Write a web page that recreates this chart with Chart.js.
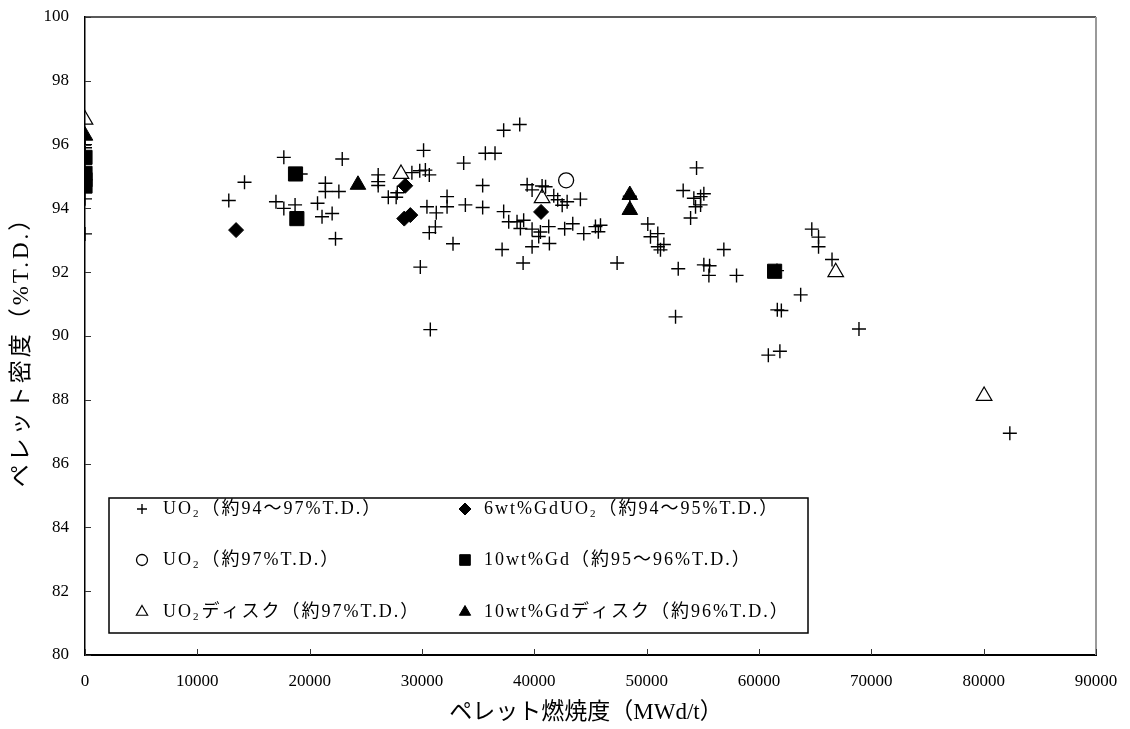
<!DOCTYPE html>
<html lang="ja">
<head>
<meta charset="utf-8">
<title>ペレット密度とペレット燃焼度</title>
<script src="https://cdn.jsdelivr.net/npm/chart.js@4.4.1/dist/chart.umd.min.js"></script>
<style>
  html, body { margin: 0; padding: 0; background: #fff; }
  #wrap { width: 1130px; height: 729px; }
</style>
</head>
<body>
<div id="wrap"><canvas id="chart" width="1130" height="729"></canvas></div>
<script>
// 軸の設定
const xMin = 0, xMax = 90000, xStep = 10000;
const yMin = 80, yMax = 100, yStep = 2;
const xTitle = 'ペレット燃焼度（MWd/t）';
const yTitle = 'ペレット密度（%T.D.）';

// UO2（約94～97%T.D.）
const uo2Burnup = [
    0, 0, 0, 0, 0,
    12800, 14200, 17000, 17700, 17700, 18700, 19200, 20700, 21100, 21400, 21400, 22000, 22300, 22600, 22900,
    26100, 26100, 26100, 27000, 27700, 27800, 29100, 29800, 30300, 30650, 30140, 30440, 31270, 31190, 30650, 29850, 30740,
    32230, 32230, 32760, 33710, 33860, 35400, 35400, 35640, 36500, 37270, 38700, 37130, 39000,
    39360, 39800, 40690, 41000, 41730, 42080, 42480, 42920, 44100,
    37270, 37720, 38460, 39050, 38760, 39800, 40540, 40390, 41280, 39800, 41340, 42700, 43420, 44400, 45440, 45890, 45700,
    48500, 47370, 50100, 50340, 50990, 50990, 51530, 51230, 52570, 52810,
    54440, 53250, 54200, 54800, 55090, 54350, 54800, 53910, 55090, 55600, 55540, 56870, 58000,
    61600, 64700, 65300, 65300, 66500, 63710, 61630, 61990, 68900, 60830, 61860, 82330
];
const uo2Density = [
    96.0, 95.9, 95.5, 94.3, 93.2,
    94.25, 94.82, 94.21, 95.6, 94.0, 94.11, 95.08, 94.16, 93.74, 94.79, 94.53, 93.84, 93.05, 94.53, 95.55,
    95.05, 94.84, 94.72, 94.35, 94.35, 94.49, 95.12, 95.18, 95.2, 95.05, 95.82, 94.05, 93.86, 93.42, 93.24, 92.16, 90.2,
    94.37, 94.05, 92.89, 95.42, 94.11, 94.72, 94.03, 95.73, 95.73, 96.45, 96.63, 92.71, 92.29,
    94.74, 94.58, 94.7, 94.68, 94.4, 94.27, 94.1, 94.21, 94.29,
    93.9, 93.58, 93.58, 93.63, 93.37, 93.35, 93.26, 93.12, 93.43, 92.8, 92.9, 93.36, 93.52, 93.21, 93.43, 93.47, 93.27,
    94.38, 92.29, 93.51, 93.11, 93.21, 92.8, 92.87, 92.7, 90.6, 92.11,
    95.27, 94.56, 94.32, 94.37, 94.46, 94.05, 94.11, 93.7, 92.23, 92.2, 91.9, 92.71, 91.9,
    92.05, 93.35, 93.1, 92.8, 92.4, 91.29, 90.82, 90.8, 90.22, 89.4, 89.52, 86.95
];

// UO2（約97%T.D.）
const uo2HighBurnup = [42830];
const uo2HighDensity = [94.88];

// UO2ディスク（約97%T.D.）
const uo2DiskBurnup = [0, 28130, 40690, 66830, 80040];
const uo2DiskDensity = [96.78, 95.08, 94.32, 92.0, 88.12];

// 6wt%GdUO2（約94～95%T.D.）
const gd6Burnup = [13450, 28510, 28420, 28960, 40600];
const gd6Density = [93.32, 94.71, 93.68, 93.79, 93.89];

// 10wt%Gd（約95～96%T.D.）
const gd10Burnup = [0, 0, 0, 0, 18740, 18860, 61390];
const gd10Density = [95.6, 95.1, 94.9, 94.7, 95.08, 93.68, 92.03];

// 10wt%Gdディスク（約96%T.D.）
const gd10DiskBurnup = [0, 24300, 48500, 48500];
const gd10DiskDensity = [96.28, 94.74, 94.42, 93.95];

const FONT = "'Liberation Serif', 'Noto Sans CJK JP', serif";

function toPoints(xs, ys) {
    return xs.map((x, i) => ({ x: x, y: ys[i] }));
}

// 凡例の並び（列ごと）
const legendItems = [
    { label: 'UO2（約94～97%T.D.）', ds: 0, col: 0, row: 0, r: 5 },
    { label: 'UO2（約97%T.D.）', ds: 1, col: 0, row: 1, r: 5.5 },
    { label: 'UO2ディスク（約97%T.D.）', ds: 2, col: 0, row: 2, r: 6.5 },
    { label: '6wt%GdUO2（約94～95%T.D.）', ds: 3, col: 1, row: 0, r: 6 },
    { label: '10wt%Gd（約95～96%T.D.）', ds: 4, col: 1, row: 1, r: 7.5 },
    { label: '10wt%Gdディスク（約96%T.D.）', ds: 5, col: 1, row: 2, r: 6.5 }
];

// "UO2" の 2 を下付きで描く
function drawLabel(ctx, text, x, y) {
    const parts = text.split('UO2');
    let cx = x;
    ctx.letterSpacing = '2px';
    parts.forEach((p, i) => {
        ctx.font = '18px ' + FONT;
        ctx.fillText(p, cx, y);
        cx += ctx.measureText(p).width;
        if (i < parts.length - 1) {
            ctx.fillText('UO', cx, y);
            cx += ctx.measureText('UO').width;
            ctx.font = '11px ' + FONT;
            ctx.fillText('2', cx, y + 5);
            cx += ctx.measureText('2').width + 1;
        }
    });
    ctx.letterSpacing = '0px';
}

const framePlugin = {
    id: 'frame',
    afterDraw(chart) {
        const ctx = chart.ctx;
        const a = chart.chartArea;
        const xs = chart.scales.x, ys = chart.scales.y;
        ctx.save();

        // 上と右の枠
        ctx.strokeStyle = '#222';
        ctx.lineWidth = 1.5;
        ctx.beginPath();
        ctx.moveTo(a.left, a.top);
        ctx.lineTo(a.right, a.top);
        ctx.stroke();
        ctx.strokeStyle = '#9a9a9a';
        ctx.lineWidth = 2;
        ctx.beginPath();
        ctx.moveTo(a.right, a.top);
        ctx.lineTo(a.right, a.bottom);
        ctx.stroke();

        // 内向きの目盛
        ctx.strokeStyle = '#333';
        ctx.lineWidth = 1;
        xs.ticks.forEach(t => {
            const px = Math.round(xs.getPixelForValue(t.value)) + 0.5;
            ctx.beginPath();
            ctx.moveTo(px, a.bottom);
            ctx.lineTo(px, a.bottom - 6);
            ctx.stroke();
        });
        ys.ticks.forEach(t => {
            const py = Math.round(ys.getPixelForValue(t.value)) + 0.5;
            ctx.beginPath();
            ctx.moveTo(a.left, py);
            ctx.lineTo(a.left + 6, py);
            ctx.stroke();
        });

        // 軸タイトル
        ctx.fillStyle = '#000';
        ctx.textAlign = 'center';
        ctx.textBaseline = 'middle';
        ctx.font = '23px ' + FONT;
        ctx.fillText(xTitle, 586, 713);
        ctx.save();
        ctx.translate(22, 346);
        ctx.rotate(-Math.PI / 2);
        ctx.letterSpacing = '3px';
        ctx.fillText(yTitle, 0, 0);
        ctx.restore();

        // 凡例
        const box = { left: 109, top: 498, right: 808, bottom: 633 };
        ctx.fillStyle = '#fff';
        ctx.fillRect(box.left, box.top, box.right - box.left, box.bottom - box.top);
        ctx.strokeStyle = '#000';
        ctx.lineWidth = 1.5;
        ctx.strokeRect(box.left, box.top, box.right - box.left, box.bottom - box.top);
        const colSym = [142, 465];
        const colText = [163, 484];
        const rowY = [509, 560, 612];
        ctx.textAlign = 'left';
        ctx.textBaseline = 'middle';
        legendItems.forEach(it => {
            const ds = chart.data.datasets[it.ds];
            ctx.fillStyle = ds.backgroundColor;
            ctx.strokeStyle = ds.borderColor;
            ctx.lineWidth = ds.borderWidth;
            Chart.helpers.drawPoint(ctx, {
                pointStyle: ds.pointStyle,
                radius: it.r,
                rotation: 0,
                borderWidth: ds.borderWidth
            }, colSym[it.col], rowY[it.row]);
            ctx.fillStyle = '#000';
            drawLabel(ctx, it.label, colText[it.col], rowY[it.row]);
        });
        ctx.restore();
    }
};

const datasets = [
    {
        label: 'UO2（約94～97%T.D.）',
        data: toPoints(uo2Burnup, uo2Density),
        pointStyle: 'cross', pointRadius: 7,
        borderColor: '#000', backgroundColor: '#000', borderWidth: 1.4,
        order: 6
    },
    {
        label: 'UO2（約97%T.D.）',
        data: toPoints(uo2HighBurnup, uo2HighDensity),
        pointStyle: 'circle', pointRadius: 7.5,
        borderColor: '#000', backgroundColor: 'rgba(0,0,0,0)', borderWidth: 1.3,
        order: 5
    },
    {
        label: 'UO2ディスク（約97%T.D.）',
        data: toPoints(uo2DiskBurnup, uo2DiskDensity),
        pointStyle: 'triangle', pointRadius: 9,
        borderColor: '#000', backgroundColor: 'rgba(0,0,0,0)', borderWidth: 1.2,
        order: 1
    },
    {
        label: '6wt%GdUO2（約94～95%T.D.）',
        data: toPoints(gd6Burnup, gd6Density),
        pointStyle: 'rectRot', pointRadius: 7.5,
        borderColor: '#000', backgroundColor: '#000', borderWidth: 1,
        order: 2
    },
    {
        label: '10wt%Gd（約95～96%T.D.）',
        data: toPoints(gd10Burnup, gd10Density),
        pointStyle: 'rect', pointRadius: 10,
        borderColor: '#000', backgroundColor: '#000', borderWidth: 1,
        order: 4
    },
    {
        label: '10wt%Gdディスク（約96%T.D.）',
        data: toPoints(gd10DiskBurnup, gd10DiskDensity),
        pointStyle: 'triangle', pointRadius: 9,
        borderColor: '#000', backgroundColor: '#000', borderWidth: 1,
        order: 3
    }
];

new Chart(document.getElementById('chart'), {
    type: 'scatter',
    data: { datasets: datasets },
    options: {
        responsive: false,
        animation: false,
        events: [],
        layout: { padding: { top: 17, right: 34, left: 0, bottom: 0 } },
        plugins: {
            legend: { display: false },
            tooltip: { enabled: false }
        },
        scales: {
            x: {
                type: 'linear',
                min: xMin, max: xMax,
                afterFit: s => {
                    s.height = 74;
                    s.paddingLeft = 0;
                    s.paddingRight = 0;
                },
                ticks: {
                    stepSize: xStep,
                    padding: 16,
                    color: '#000',
                    font: { family: FONT, size: 17 },
                    maxRotation: 0,
                    callback: v => String(v)
                },
                grid: { drawOnChartArea: false, drawTicks: false },
                border: { display: true, color: '#000', width: 2 }
            },
            y: {
                type: 'linear',
                min: yMin, max: yMax,
                afterFit: s => {
                    s.width = 85;
                    s.paddingTop = 0;
                    s.paddingBottom = 0;
                },
                ticks: {
                    stepSize: yStep,
                    padding: 16,
                    color: '#000',
                    font: { family: FONT, size: 17 }
                },
                grid: { drawOnChartArea: false, drawTicks: false },
                border: { display: true, color: '#000', width: 1.5 }
            }
        }
    },
    plugins: [framePlugin]
});
</script>
</body>
</html>
